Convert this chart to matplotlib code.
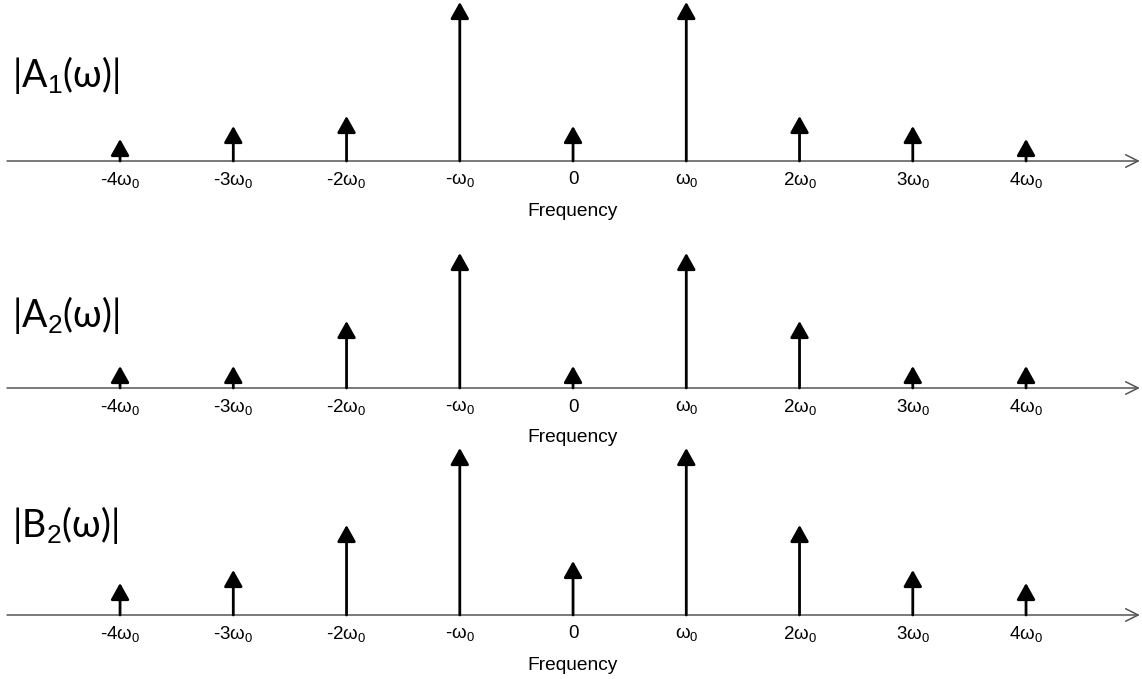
import matplotlib
matplotlib.use("Agg")
import matplotlib.pyplot as plt

plt.rcParams['font.family'] = ['Liberation Sans', 'DejaVu Sans']
plt.rcParams['mathtext.fontset'] = 'custom'
plt.rcParams['mathtext.rm'] = 'Liberation Sans'
plt.rcParams['mathtext.it'] = 'Liberation Sans:italic'

# harmonic index (multiples of w0) and tick labels
harmonics = [-4, -3, -2, -1, 0, 1, 2, 3, 4]
tick_labels = ['-4ω$_0$', '-3ω$_0$', '-2ω$_0$', '-ω$_0$', '0',
               'ω$_0$', '2ω$_0$', '3ω$_0$', '4ω$_0$']

# magnitudes (arbitrary units)
a1_mag = [22, 35, 45, 159, 35, 159, 45, 35, 22]
a2_mag = [22, 22, 67, 135, 22, 135, 67, 22, 22]
b2_mag = [32, 45, 90, 167, 54, 167, 90, 45, 32]

row_names = ['|A$_1$(ω)|', '|A$_2$(ω)|', '|B$_2$(ω)|']
row_mags = [a1_mag, a2_mag, b2_mag]

W, H = 1142, 679
fig = plt.figure(figsize=(W / 100, H / 100), dpi=100)

baselines = [161, 388, 615]   # pixel rows of the frequency axes
label_y = [75, 315, 525]

for i, (name, mags) in enumerate(zip(row_names, row_mags)):
    b = baselines[i]
    ax = fig.add_axes([0, (H - b - 60) / H, 1, 230 / H])
    ax.set_xlim(-5.06, 5.024)
    ax.set_ylim(-60, 170)
    ax.axis('off')

    # frequency axis with open arrow head
    ax.annotate('', xy=(5.005, 0), xytext=(-4.998, 0),
                arrowprops=dict(arrowstyle='->,head_length=0.6,head_width=0.3',
                                color='#555555', lw=1.1, mutation_scale=15,
                                shrinkA=0, shrinkB=0),
                annotation_clip=False)

    for k, m, lab in zip(harmonics, mags, tick_labels):
        ax.annotate('', xy=(k, m), xytext=(k, 0),
                    arrowprops=dict(arrowstyle='-|>,head_length=0.5,head_width=0.28',
                                    color='black', lw=2.0, mutation_scale=20,
                                    shrinkA=0, shrinkB=0),
                    annotation_clip=False)
        ax.text(k, -19, lab, ha='center', va='center', fontsize=13.5)

    ax.text(0, -50, 'Frequency', ha='center', va='center', fontsize=13.8)

    fig.text(12 / W, 1 - label_y[i] / H, name, ha='left', va='center',
             fontsize=27, family=['Lato', 'DejaVu Sans'])

fig.savefig('out.png', dpi=100)
